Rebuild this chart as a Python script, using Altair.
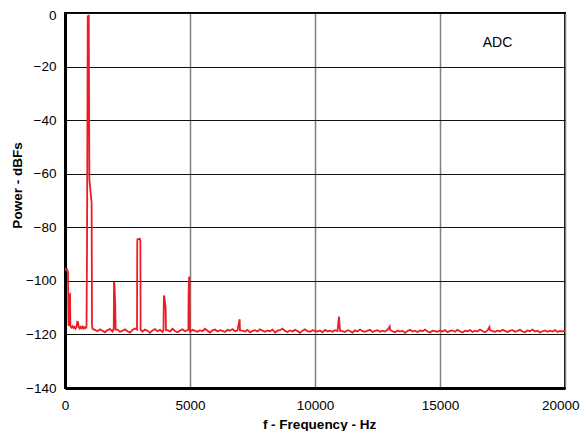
import altair as alt
import pandas as pd

# Low-frequency region and fundamental (Hz, dBFS)
low_freq = [0, 30, 60, 90, 120, 140, 160, 180, 200, 215, 260, 300, 340, 380, 420, 460,
            490, 520, 550, 590, 630, 670, 710, 750, 790, 830, 860, 880, 910, 950, 975,
            1065, 1080]
low_db = [-96.3, -95.6, -96.0, -95.8, -96.8, -116.2, -116.8, -105.2, -105.0, -116.9,
          -117.4, -116.9, -117.6, -117.2, -117.8, -117.3, -115.3, -115.4, -117.3, -117.8,
          -117.2, -117.7, -117.1, -117.8, -117.3, -117.6, -117.2, -89.0, -1.2, -1.0,
          -62.0, -71.0, -116.5]

# Harmonics and spurs
h2_freq = [1930, 1950, 1960, 1975, 2010, 2025]
h2_db = [-118.1, -118.0, -100.4, -100.8, -109.3, -118.2]
h3_freq = [2880, 2890, 2900, 2990, 3015, 3025]
h3_db = [-118.2, -85.6, -84.5, -84.3, -84.8, -118.3]
h4_freq = [3940, 3955, 3975, 4025, 4040]
h4_db = [-118.3, -105.5, -105.9, -110.2, -118.4]
h5_freq = [4910, 4935, 4945, 4965, 4975, 4990]
h5_db = [-118.4, -118.0, -104.0, -98.5, -98.7, -118.6]
spur_freq = [6985, 10960, 12990, 16980]
spur_db = [-114.3, -113.3, -117.0, -117.2]

# Noise floor, 1100 Hz to 20000 Hz in 100 Hz bins
noise_start = 1100
noise_step = 100
noise_db = [
    -117.9, -118.3, -118.8, -118.1, -118.6, -119.2, -118.4, -118.0, -118.9, -118.5,
    -118.2, -119.0, -118.6, -118.1, -118.8, -119.3, -118.3, -117.8, -118.7, -118.4,
    -118.9, -118.2, -118.6, -119.4, -118.5, -118.0, -118.8, -118.3, -119.1, -118.6,
    -118.4, -118.9, -117.9, -118.7, -119.2, -118.5, -118.1, -118.8, -118.4, -118.9,
    -118.3, -118.7, -119.0, -118.4, -118.8, -117.9, -118.6, -119.3, -118.5, -118.2,
    -118.9, -118.4, -118.7, -119.1, -118.3, -118.6, -118.0, -118.8, -118.5, -118.5,
    -118.6, -118.9, -118.3, -119.2, -118.7, -118.4, -118.9, -118.1, -118.6, -119.0,
    -118.5, -118.8, -118.2, -119.3, -118.6, -118.4, -117.8, -118.7, -119.1, -118.5,
    -118.9, -118.3, -118.7, -119.4, -118.6, -118.1, -118.8, -119.0, -118.4, -118.7,
    -118.9, -118.5, -119.2, -118.3, -118.8, -118.6, -119.0, -118.4, -118.7, -118.6,
    -118.8, -119.1, -118.4, -118.7, -119.3, -118.5, -118.9, -118.2, -118.8, -119.0,
    -118.6, -118.3, -119.1, -118.7, -118.4, -119.0, -118.6, -118.9, -118.3, -118.3,
    -118.8, -119.2, -118.5, -118.9, -118.6, -119.4, -118.7, -118.3, -118.9, -118.6,
    -119.1, -118.5, -118.8, -118.2, -118.9, -119.3, -118.6, -118.8, -119.0, -118.5,
    -118.9, -118.4, -119.2, -118.7, -118.5, -119.0, -118.3, -118.8, -119.3, -118.6,
    -118.8, -118.4, -119.1, -118.6, -118.9, -118.2, -118.7, -119.2, -118.5, -118.4,
    -118.8, -119.0, -118.5, -118.9, -118.3, -118.7, -119.1, -118.6, -118.4, -119.0,
    -118.7, -118.3, -118.9, -119.2, -118.5, -118.8, -118.2, -118.9, -118.6, -119.3,
    -118.8, -118.5, -119.0, -118.6, -118.9, -118.4, -119.1, -118.7, -118.9, -118.6,
]

x_ticks = [0, 5000, 10000, 15000, 20000]
y_ticks = [0, -20, -40, -60, -80, -100, -120, -140]

segments = [(h2_freq, h2_db), (h3_freq, h3_db), (h4_freq, h4_db), (h5_freq, h5_db)]
rows = list(zip(low_freq, low_db))
for f, d in segments:
    rows += list(zip(f, d))
rows += list(zip(spur_freq, spur_db))
for i, d in enumerate(noise_db):
    f = noise_start + i * noise_step
    if any(min(sf) <= f <= max(sf) for sf, _ in segments):
        continue
    rows.append((f, d))
df = pd.DataFrame(rows, columns=["freq", "db"]).sort_values("freq")

FONT = "Liberation Sans"

x_label_align = {"condition": {"test": "datum.value == 20000", "value": "right"},
                 "value": "center"}
x_label_offset = {"condition": {"test": "datum.value == 20000", "value": 14},
                  "value": 0}
y_label_offset = {"condition": {"test": "datum.value == 0", "value": 2},
                  "value": 0}

line = alt.Chart(df).mark_line(color="#ED1C24", strokeWidth=1.8, clip=True,
                               strokeJoin="miter").encode(
    x=alt.X("freq:Q",
            scale=alt.Scale(domain=[0, 20000], nice=False),
            axis=alt.Axis(values=x_ticks, title="f - Frequency - Hz", format="d",
                          grid=True, gridColor="#808080", gridWidth=1.5, gridOpacity=1,
                          ticks=False, labelPadding=10, labelFontSize=13.5,
                          labelAlign=x_label_align, labelOffset=x_label_offset,
                          labelColor="black", domainColor="black", domainWidth=3,
                          titleFontSize=13.5, titleFontWeight="bold", titleColor="black",
                          titleX=254, titleY=36, titleBaseline="middle",
                          labelFlush=False, labelOverlap=False)),
    y=alt.Y("db:Q",
            scale=alt.Scale(domain=[-140, 0], nice=False),
            axis=alt.Axis(values=y_ticks, title="Power - dBFs", format="d",
                          grid=True, gridColor="#111111", gridWidth=1, gridOpacity=1,
                          ticks=False, labelPadding=9, labelFontSize=13.5,
                          labelOffset=y_label_offset,
                          labelColor="black", domainColor="black", domainWidth=3,
                          titleFontSize=13.5, titleFontWeight="bold", titleColor="black",
                          titleX=-48, titleY=172, titleBaseline="middle",
                          labelFlush=False, labelOverlap=False)),
)

label_df = pd.DataFrame({"freq": [17300], "db": [-11.2], "text": ["ADC"]})
label = alt.Chart(label_df).mark_text(font=FONT, fontSize=14, color="black",
                                      align="center", baseline="middle").encode(
    x="freq:Q", y="db:Q", text="text:N")

chart = alt.layer(line, label).properties(
    width=500, height=375,
    autosize=alt.AutoSizeParams(type="none"),
    padding={"left": 57, "top": 5, "right": 15, "bottom": 43},
).configure_view(
    stroke="black", strokeWidth=2
).configure_axis(
    labelFont=FONT, titleFont=FONT
)

chart.save("out.html", embed_options={"renderer": "svg", "actions": False})
